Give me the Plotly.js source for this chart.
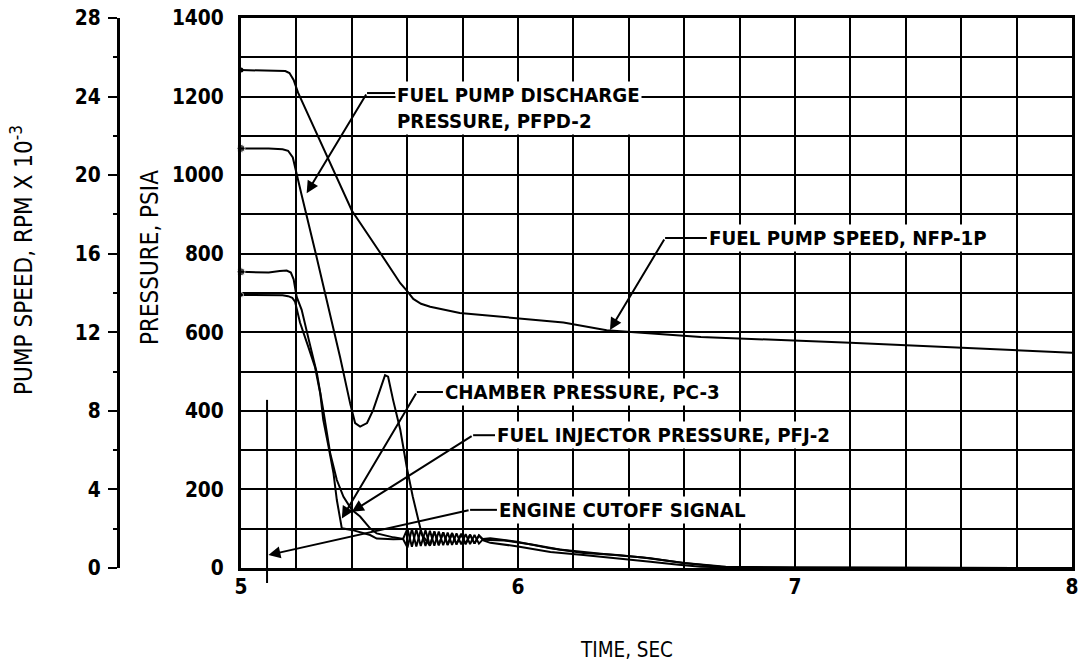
<!DOCTYPE html>
<html>
<head>
<meta charset="utf-8">
<script src="https://cdn.plot.ly/plotly-3.0.1.min.js"></script>
<style>
html,body{margin:0;padding:0;background:#fff;}
#chart{width:1087px;height:666px;}
</style>
</head>
<body>
<div id="chart"></div>
<script>
// ---------------- DATA ----------------
// Fuel pump speed, NFP-1P  (RPM x 10^-3)
const timePump = [5.00, 5.10, 5.16, 5.175, 5.19, 5.206, 5.30, 5.40, 5.50, 5.545, 5.575, 5.60, 5.622, 5.65, 5.683, 5.79, 6.00, 6.164, 6.32, 6.66, 7.20, 7.60, 8.00];
const pumpSpeed = [25.35, 25.33, 25.30, 25.2, 24.85, 24.2, 21.3, 18.2, 16.1, 15.1, 14.5, 14.1, 13.7, 13.45, 13.3, 12.98, 12.7, 12.5, 12.1, 11.76, 11.47, 11.2, 10.96];

// Fuel pump discharge pressure, PFPD-2 (psia)
const timePFPD = [5.00, 5.10, 5.15, 5.17, 5.187, 5.20, 5.218, 5.267, 5.30, 5.327,
  5.358, 5.394, 5.412, 5.43, 5.455, 5.477, 5.502, 5.52, 5.531, 5.549,
  5.575, 5.598, 5.62, 5.64, 5.653, 5.682, 5.698, 5.714, 5.730, 5.746,
  5.762, 5.778, 5.795, 5.811, 5.827, 5.843, 5.859, 5.875, 5.95, 6.05,
  6.15, 6.30, 6.45, 6.60, 6.75, 7.00, 7.50, 8.00];
const pressPFPD = [1068, 1068, 1066, 1062, 1045, 1003, 952, 809, 710, 629,
  536, 419, 369, 360, 369, 402, 454, 491, 487, 428,
  352, 258, 182, 122, 85, 57, 93, 58, 91, 59,
  89, 60, 87, 61, 85, 62, 83, 72, 70, 60,
  47, 36, 27, 13, 3, 1, 0, 0];

// Chamber pressure, PC-3 (psia)
const timePC = [5.00, 5.10, 5.15, 5.17, 5.185, 5.195, 5.213, 5.243, 5.267, 5.286, 5.297, 5.316, 5.334, 5.346, 5.358, 5.364, 5.40, 5.44, 5.466, 5.49, 5.55,
  5.585, 5.601, 5.617, 5.633, 5.649, 5.666, 5.682, 5.698, 5.714, 5.730, 5.746, 5.762, 5.778, 5.795, 5.811, 5.827, 5.843, 5.859, 5.875,
  5.90, 6.00, 6.117, 6.236, 6.36, 6.478, 6.58, 6.66, 6.90, 7.50, 8.00];
const pressPC = [695, 695, 694, 692, 688, 678, 625, 563, 512, 445, 377, 309, 241, 173, 122, 101, 97, 90, 84, 75, 73,
  74, 100, 54, 98, 56, 96, 57, 93, 58, 91, 59, 89, 60, 87, 61, 85, 62, 83, 70,
  64, 55, 41, 33, 25, 16, 8, 3, 0, 0, 0];

// Fuel injector pressure, PFJ-2 (psia)
const timePFJ = [5.00, 5.10, 5.14, 5.165, 5.18, 5.19, 5.201, 5.219, 5.245, 5.274, 5.297, 5.322, 5.346, 5.37, 5.40, 5.43, 5.466, 5.49, 5.55,
  5.585, 5.601, 5.617, 5.633, 5.649, 5.666, 5.682, 5.698, 5.714, 5.730, 5.746, 5.762, 5.778, 5.795, 5.811, 5.827, 5.843, 5.859, 5.875,
  5.90, 5.996, 6.117, 6.236, 6.358, 6.478, 6.597, 6.731, 7.00, 7.50, 8.00];
const pressPFJ = [754, 752, 756, 757, 752, 735, 690, 657, 580, 496, 402, 292, 224, 181, 148, 131, 101, 88, 78,
  74, 52, 99, 55, 97, 56, 95, 57, 93, 58, 90, 59, 88, 60, 86, 61, 84, 62, 74,
  76, 67, 50, 38, 33, 25, 13, 3, 1, 0, 0];

// Engine cutoff signal (time, and top of its marker line in psia)
const cutoffTime = [5.094];
const cutoffTop = [428];

// Tick labels
const timeTicks = [5, 6, 7, 8];
const pressureTicks = [0, 200, 400, 600, 800, 1000, 1200, 1400];
const speedTicks = [0, 4, 8, 12, 16, 20, 24, 28];

// ---------------- FONT PICKING (fit widths of reference lettering) ----------------
const ctx = document.createElement('canvas').getContext('2d');
function measure(fam, weight, text) {
  ctx.font = weight + ' 100px ' + fam;
  return ctx.measureText(text).width;
}
function hasFont(name, weight) {
  const s = 'FUEL PUMP DISCHARGE 1400';
  return measure('"' + name + '", monospace', weight, s) !== measure('monospace', weight, s) ||
         measure('"' + name + '", serif', weight, s) !== measure('serif', weight, s);
}
function pick(list, weight) {
  for (const f of list) { if (hasFont(f, weight)) return f; }
  return 'Liberation Sans';
}
const boldFam = pick(['DejaVu Sans Condensed', 'Liberation Sans Narrow', 'Roboto', 'Liberation Sans'], 'bold');
const regFam = pick(['DejaVu Sans Condensed', 'Liberation Sans Narrow', 'Roboto', 'Liberation Sans'], 'normal');
function fitSize(fam, weight, text, px) { return 100 * px / measure('"' + fam + '"', weight, text); }

const labelSize = fitSize(boldFam, 'bold', 'FUEL PUMP DISCHARGE', 243);
const tickSize = fitSize(boldFam, 'bold', '1400', 52);
const presTitleSize = fitSize(regFam, 'normal', 'PRESSURE, PSIA', 175);
const speedTitleSize = 100 * 270 / (measure('"' + regFam + '"', 'normal', 'PUMP SPEED, RPM X 10') + 0.7 * measure('"' + regFam + '"', 'normal', '-3'));
const timeTitleSize = fitSize(regFam, 'normal', 'TIME, SEC', 92);

// ---------------- LAYOUT ----------------
const W = 1087, H = 666, ML = 0, MR = 15, MT = 18, MB = 98;
const plotW = W - ML - MR;
const plotH = H - MT - MB;
const xStart = 241 / plotW;
const speedAxisPos = 118 / plotW;

const lineStyle = {color: '#000', width: 2, shape: 'linear'};
const tickFont = {family: boldFam, size: tickSize, weight: 700, color: '#000'};
const labelFont = {family: boldFam, size: labelSize, weight: 700, color: '#000'};

const traces = [
  {x: timePump, y: pumpSpeed, yaxis: 'y2', mode: 'lines', line: lineStyle, hoverinfo: 'skip'},
  {x: timePFPD, y: pressPFPD, mode: 'lines', line: lineStyle, hoverinfo: 'skip'},
  {x: timePC, y: pressPC, mode: 'lines', line: lineStyle, hoverinfo: 'skip'},
  {x: timePFJ, y: pressPFJ, mode: 'lines', line: lineStyle, hoverinfo: 'skip'},
  {x: [timePFPD[0], timePFJ[0], timePC[0]], y: [pressPFPD[0], pressPFJ[0], pressPC[0]], mode: 'markers',
   marker: {color: '#000', size: [8, 8, 5]}, cliponaxis: false, hoverinfo: 'skip'},
  {x: [timePump[0]], y: [pumpSpeed[0]], yaxis: 'y2', mode: 'markers', marker: {color: '#000', size: 5}, cliponaxis: false, hoverinfo: 'skip'}
];

// Callouts: text start (tx, ty), kink of leader (kx, ky), arrow tip (hx, hy)
const labels = [
  {text: 'FUEL PUMP DISCHARGE<br>PRESSURE, PFPD-2', tx: 5.556, ty: 1172, kx: 5.455, ky: 1209, hx: 5.237, hy: 954},
  {text: 'FUEL PUMP SPEED, NFP-1P', tx: 6.682, ty: 840, kx: 6.531, ky: 840, hx: 6.332, hy: 606},
  {text: 'CHAMBER PRESSURE, PC-3', tx: 5.729, ty: 448, kx: 5.635, ky: 448, hx: 5.364, hy: 126},
  {text: 'FUEL INJECTOR PRESSURE, PFJ-2', tx: 5.917, ty: 338, kx: 5.838, ky: 338, hx: 5.40, hy: 143},
  {text: 'ENGINE CUTOFF SIGNAL', tx: 5.924, ty: 148, kx: 5.827, ky: 148, hx: 5.099, hy: 33}
];

const annotations = [];
const shapes = [];
labels.forEach(l => {
  annotations.push({x: l.tx, y: l.ty, xref: 'x', yref: 'y', text: l.text, showarrow: false,
    xanchor: 'left', yanchor: 'middle', align: 'left', bgcolor: '#fff', borderpad: 1, font: labelFont});
  annotations.push({x: l.hx, y: l.hy, xref: 'x', yref: 'y', ax: l.kx, ay: l.ky, axref: 'x', ayref: 'y',
    text: '', showarrow: true, arrowhead: 2, arrowsize: 1.2, arrowwidth: 2, arrowcolor: '#000', standoff: 0});
  shapes.push({type: 'line', xref: 'x', yref: 'y', x0: l.kx, x1: l.tx, y0: l.ky, y1: l.ky,
    line: {color: '#000', width: 2}});
});

// engine cutoff signal marker line (extends a little below the axis)
shapes.push({type: 'line', xref: 'x', yref: 'paper', x0: cutoffTime[0], x1: cutoffTime[0],
  y0: -15 / plotH, y1: cutoffTop[0] / 1400, line: {color: '#000', width: 2}});

// axis titles
annotations.push({xref: 'paper', yref: 'paper', x: 22 / plotW, y: (568 - 260) / plotH, text: 'PUMP SPEED, RPM X 10<sup>-3</sup>',
  textangle: -90, showarrow: false, font: {family: regFam, size: speedTitleSize, color: '#000'}, xanchor: 'center', yanchor: 'middle'});
annotations.push({xref: 'paper', yref: 'paper', x: 150 / plotW, y: (568 - 258) / plotH, text: 'PRESSURE, PSIA',
  textangle: -90, showarrow: false, font: {family: regFam, size: presTitleSize, color: '#000'}, xanchor: 'center', yanchor: 'middle'});
annotations.push({xref: 'paper', yref: 'paper', x: (626 - ML) / plotW, y: (568 - 650) / plotH, text: 'TIME, SEC',
  showarrow: false, font: {family: regFam, size: timeTitleSize, color: '#000'}, xanchor: 'center', yanchor: 'middle'});

const layout = {
  width: W, height: H,
  margin: {l: ML, r: MR, t: MT, b: MB, pad: 0},
  paper_bgcolor: '#fff', plot_bgcolor: '#fff',
  showlegend: false,
  xaxis: {
    domain: [xStart, 1], range: [5, 8], tickmode: 'array', tickvals: timeTicks, ticktext: timeTicks.map(String),
    showgrid: true, gridcolor: '#000', gridwidth: 2,
    minor: {dtick: 0.2, tick0: 5, showgrid: true, gridcolor: '#000', gridwidth: 2},
    showline: true, mirror: true, linewidth: 3, linecolor: '#000', ticks: '', zeroline: false,
    tickfont: tickFont, ticklabelstandoff: -2, fixedrange: true
  },
  yaxis: {
    range: [0, 1400], tickmode: 'array', tickvals: pressureTicks, ticktext: pressureTicks.map(String),
    showgrid: true, gridcolor: '#000', gridwidth: 2,
    minor: {dtick: 100, tick0: 0, showgrid: true, gridcolor: '#000', gridwidth: 2},
    showline: true, mirror: true, linewidth: 3, linecolor: '#000', ticks: '', zeroline: false,
    tickfont: tickFont, ticklabelstandoff: 10, fixedrange: true
  },
  yaxis2: {
    overlaying: 'y', anchor: 'free', side: 'left', position: speedAxisPos,
    range: [0, 28], tickmode: 'array', tickvals: speedTicks, ticktext: speedTicks.map(String),
    showgrid: false, zeroline: false, showline: true, linewidth: 3, linecolor: '#000',
    ticks: 'outside', ticklen: 9, tickwidth: 2, tickcolor: '#000',
    minor: {dtick: 2, tick0: 0, ticks: 'outside', ticklen: 4, tickwidth: 2, tickcolor: '#000', showgrid: false},
    tickfont: tickFont, ticklabelstandoff: 3, fixedrange: true
  },
  annotations: annotations,
  shapes: shapes
};

Plotly.newPlot('chart', traces, layout, {displayModeBar: false});
</script>
</body>
</html>
